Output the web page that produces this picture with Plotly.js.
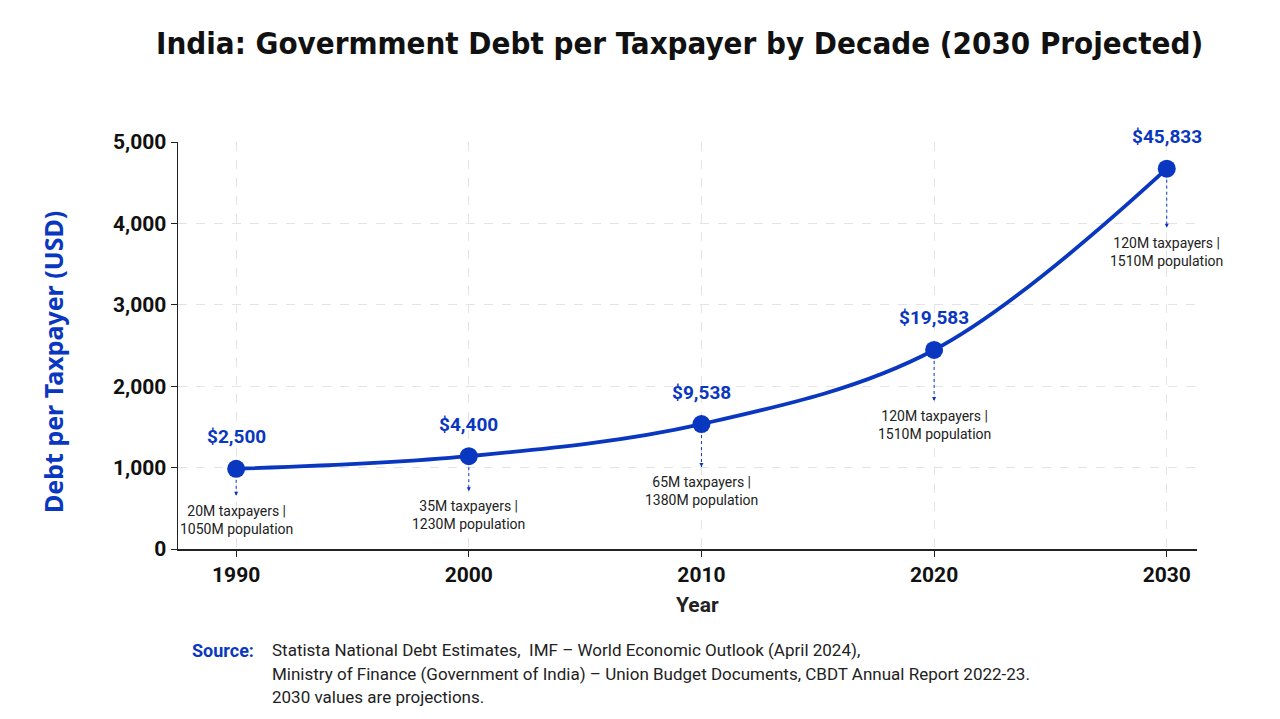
<!DOCTYPE html>
<html>
<head>
<meta charset="utf-8">
<script src="https://cdn.plot.ly/plotly-3.0.1.min.js"></script>
<style>
html,body{margin:0;padding:0;background:#fff;}
#chart{width:1280px;height:719px;}
</style>
</head>
<body>
<div id="chart"></div>
<script>
// ---- data ----
const years = [1990, 2000, 2010, 2020, 2030];
const debtPlotted = [985, 1140, 1535, 2445, 4672];
const valueLabels = ["$2,500", "$4,400", "$9,538", "$19,583", "$45,833"];
const taxpayers = ["20M", "35M", "65M", "120M", "120M"];
const population = ["1050M", "1230M", "1380M", "1510M", "1510M"];
const yTicks = [0, 1000, 2000, 3000, 4000, 5000];

const BLUE = "#0a37c0";
const COND = "'DejaVu Sans Condensed', 'DejaVu Sans', sans-serif";
const BODY = "Roboto, sans-serif";

const trace = {
  x: years, y: debtPlotted,
  type: "scatter", mode: "lines+markers",
  line: {color: BLUE, width: 3.8, shape: "spline", smoothing: 1},
  marker: {color: BLUE, size: 18},
  hoverinfo: "skip", showlegend: false, cliponaxis: false
};

const annotations = [];
const shapes = [];
years.forEach((yr, i) => {
  annotations.push({
    x: yr, y: debtPlotted[i], xref: "x", yref: "y",
    text: "<b>" + valueLabels[i] + "</b>", showarrow: false,
    yshift: 32, font: {family: BODY, size: 19, color: BLUE}
  });
  const off = 51 + 8 * i;
  annotations.push({
    x: yr, y: debtPlotted[i], xref: "x", yref: "y",
    text: taxpayers[i] + " taxpayers |<br>" + population[i] + " population",
    showarrow: false, yshift: -off, align: "center",
    font: {family: BODY, size: 14, color: "#222"}
  });
  shapes.push({
    type: "line", xref: "x", yref: "y", ysizemode: "pixel", yanchor: debtPlotted[i],
    x0: yr, x1: yr, y0: -11, y1: -(off - 24),
    line: {color: BLUE, width: 1, dash: "dot"}
  });
  annotations.push({
    x: yr, y: debtPlotted[i], xref: "x", yref: "y",
    text: "", showarrow: true, ax: 0, ay: -4, yshift: -(off - 24),
    arrowhead: 2, arrowsize: 0.8, arrowwidth: 1, arrowcolor: BLUE
  });
});

const plotTop = 142, plotB = 170;
const plotH = 719 - plotTop - plotB, plotL = 178, plotW = 1280 - 178 - 83;
const px = (x) => (x - plotL) / plotW;
const py = (y) => (plotTop + plotH - y) / plotH;

const layout = {
  width: 1280, height: 719,
  paper_bgcolor: "#fff", plot_bgcolor: "#fff",
  margin: {l: plotL, r: 83, t: plotTop, b: plotB},
  title: {
    text: "<b>India: Govermment Debt per Taxpayer by Decade (2030 Projected)</b>",
    x: 0.531, xanchor: "center", y: 0.94, yanchor: "middle",
    font: {family: COND, size: 31, color: "#111"}
  },
  xaxis: {
    range: [1987.5, 2031.3], tickvals: years, ticktext: years.map(String),
    showline: true, linecolor: "#222", linewidth: 1.5,
    ticks: "outside", ticklen: 6, tickcolor: "#222",
    showgrid: true, gridcolor: "#e4e4e4", griddash: "dash", gridwidth: 1,
    zeroline: false,
    tickfont: {family: BODY, size: 21, color: "#111", weight: "bold"}
  },
  yaxis: {
    range: [0, 5000], tickvals: yTicks, tickformat: ",d",
    showline: true, linecolor: "#222", linewidth: 1.5,
    ticks: "outside", ticklen: 6, tickcolor: "#222",
    showgrid: true, gridcolor: "#e4e4e4", griddash: "dash", gridwidth: 1,
    zeroline: false,
    tickfont: {family: BODY, size: 21, color: "#111", weight: "bold"}
  },
  annotations: annotations,
  shapes: shapes
};

// axis titles
layout.annotations.push({
  xref: "paper", yref: "paper", x: px(697), y: py(605),
  text: "<b>Year</b>", showarrow: false, xanchor: "center", yanchor: "middle",
  font: {family: BODY, size: 21, color: "#222"}
});
layout.annotations.push({
  xref: "paper", yref: "paper", x: px(53), y: py(362), textangle: -90,
  text: "<b>Debt per Taxpayer (USD)</b>", showarrow: false, xanchor: "center", yanchor: "middle",
  font: {family: "'Noto Sans', sans-serif", size: 25, color: BLUE}
});

// source block
const srcLines = [
  "Statista National Debt Estimates,  IMF – World Economic Outlook (April 2024),",
  "Ministry of Finance (Government of India) – Union Budget Documents, CBDT Annual Report 2022-23.",
  "2030 values are projections."
];
const srcY = [650, 674, 697];
layout.annotations.push({
  xref: "paper", yref: "paper", x: px(190), y: py(srcY[0]),
  text: "<b>Source:</b>", showarrow: false, xanchor: "left", yanchor: "middle",
  font: {family: BODY, size: 18, color: BLUE}
});
srcLines.forEach((t, i) => {
  layout.annotations.push({
    xref: "paper", yref: "paper", x: px(270), y: py(srcY[i]),
    text: t, showarrow: false, xanchor: "left", yanchor: "middle",
    font: {family: BODY, size: 17, color: "#222"}
  });
});

Plotly.newPlot("chart", [trace], layout, {displayModeBar: false, staticPlot: true});
</script>
</body>
</html>
